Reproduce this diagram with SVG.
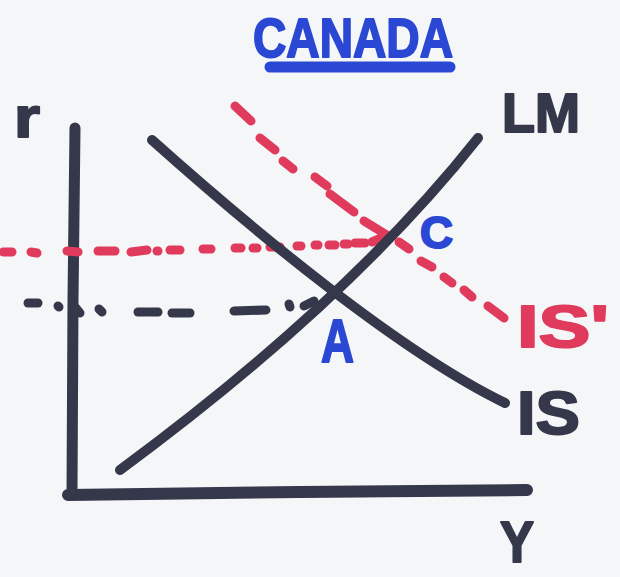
<svg xmlns="http://www.w3.org/2000/svg" width="620" height="577" viewBox="0 0 620 577">
<style>
.ink{fill:none;stroke:#35384b;stroke-linecap:round;stroke-linejoin:round}
.red{fill:none;stroke:#e03a5c;stroke-width:9;stroke-linecap:round;stroke-linejoin:round}
.dk{fill:none;stroke:#35384b;stroke-width:9;stroke-linecap:round}
.lbl{font-family:"Liberation Sans",Arial,sans-serif;font-weight:bold;stroke-linejoin:round;stroke-width:2}
.navy{fill:#35384b;stroke:#35384b}
.blue{fill:#2b48d4;stroke:#2b48d4}
.redt{fill:#e03a5c;stroke:#e03a5c}
</style>
<rect width="620" height="577" fill="#f4f6f8"/>
<g id="title">
<text class="lbl blue" x="253" y="57" font-size="56" textLength="200" lengthAdjust="spacingAndGlyphs">CANADA</text>
<line x1="270" y1="67" x2="450" y2="67" stroke="#2b48d4" stroke-width="11" stroke-linecap="round"/>
</g>
<g id="axes">
<path class="ink" stroke-width="11" d="M75,128 L73,300 L72,493"/>
<path class="ink" stroke-width="12" d="M68,495 L300,492 L527,490"/>
<text class="lbl navy" x="14" y="137" font-size="58" textLength="26" lengthAdjust="spacingAndGlyphs">r</text>
<text class="lbl navy" x="500" y="562" font-size="58" textLength="34" lengthAdjust="spacingAndGlyphs">Y</text>
</g>
<g id="connectors">
<g id="red-horizontal">
<line class="red" x1="3" y1="252" x2="12" y2="252"/>
<line class="red" x1="31" y1="252" x2="37" y2="253"/>
<line class="red" x1="67" y1="251" x2="78" y2="252"/>
<line class="red" x1="98" y1="251" x2="115" y2="251"/>
<line class="red" x1="131" y1="252" x2="147" y2="250"/>
<line class="red" x1="157" y1="251" x2="158" y2="251"/>
<line class="red" x1="170" y1="250" x2="180" y2="250"/>
<line class="red" x1="203" y1="249" x2="211" y2="249"/>
<line class="red" x1="235" y1="248" x2="241" y2="248"/>
<line class="red" x1="253" y1="248" x2="257" y2="248"/>
<line class="red" x1="270" y1="247" x2="280" y2="247"/>
<line class="red" x1="297" y1="246" x2="301" y2="246"/>
<line class="red" x1="315" y1="245" x2="318" y2="245"/>
<line class="red" x1="329" y1="245" x2="335" y2="245"/>
<line class="red" x1="344" y1="244" x2="348" y2="244"/>
<line class="red" x1="355" y1="243" x2="365" y2="243"/>
<line class="red" x1="372" y1="242" x2="386" y2="236"/>
</g>
<g id="dark-horizontal">
<line class="dk" x1="28" y1="303" x2="38" y2="303"/>
<line class="dk" x1="58" y1="306" x2="59" y2="307"/>
<line class="dk" x1="76" y1="308" x2="80" y2="313"/>
<line class="dk" x1="99" y1="309" x2="102" y2="312"/>
<line class="dk" x1="138" y1="312" x2="158" y2="312"/>
<line class="dk" x1="172" y1="313" x2="190" y2="313"/>
<line class="dk" x1="234" y1="311" x2="266" y2="310"/>
<line class="dk" x1="289" y1="304" x2="290" y2="307"/>
<line class="dk" x1="304" y1="306" x2="314" y2="301"/>
</g>
<g id="red-IS-prime">
<line class="red" x1="235" y1="106" x2="251" y2="121"/>
<line class="red" x1="260" y1="138" x2="275" y2="150"/>
<line class="red" x1="283" y1="161" x2="293" y2="169"/>
<line class="red" x1="315" y1="177" x2="327" y2="186"/>
<line class="red" x1="330" y1="194" x2="354" y2="212"/>
<line class="red" x1="364" y1="221" x2="390" y2="237"/>
<line class="red" x1="399" y1="242" x2="409" y2="249"/>
<line class="red" x1="421" y1="261" x2="432" y2="267"/>
<line class="red" x1="444" y1="277" x2="452" y2="283"/>
<line class="red" x1="464" y1="290" x2="472" y2="297"/>
<line class="red" x1="488" y1="306" x2="504" y2="318"/>
</g>
<path id="LM-curve" class="ink" stroke-width="10" d="M120,470 Q348,302 478,138"/>
<path id="IS-curve" class="ink" stroke-width="10" d="M152,140 C255,232 400,352 505,403"/>
</g>
<g id="LM">
<text class="lbl navy" x="502" y="132" font-size="55" textLength="78" lengthAdjust="spacingAndGlyphs">LM</text>
</g>
<g id="IS">
<text class="lbl navy" x="517" y="434" font-size="62" textLength="63" lengthAdjust="spacingAndGlyphs">IS</text>
</g>
<g id="IS-prime">
<text class="lbl redt" x="517" y="347" font-size="60" textLength="92" lengthAdjust="spacingAndGlyphs">IS'</text>
</g>
<g id="point-C">
<text class="lbl blue" x="420" y="248" font-size="44" textLength="33" lengthAdjust="spacingAndGlyphs">C</text>
</g>
<g id="point-A">
<text class="lbl blue" x="321" y="362" font-size="62" textLength="33" lengthAdjust="spacingAndGlyphs">A</text>
</g>
</svg>
